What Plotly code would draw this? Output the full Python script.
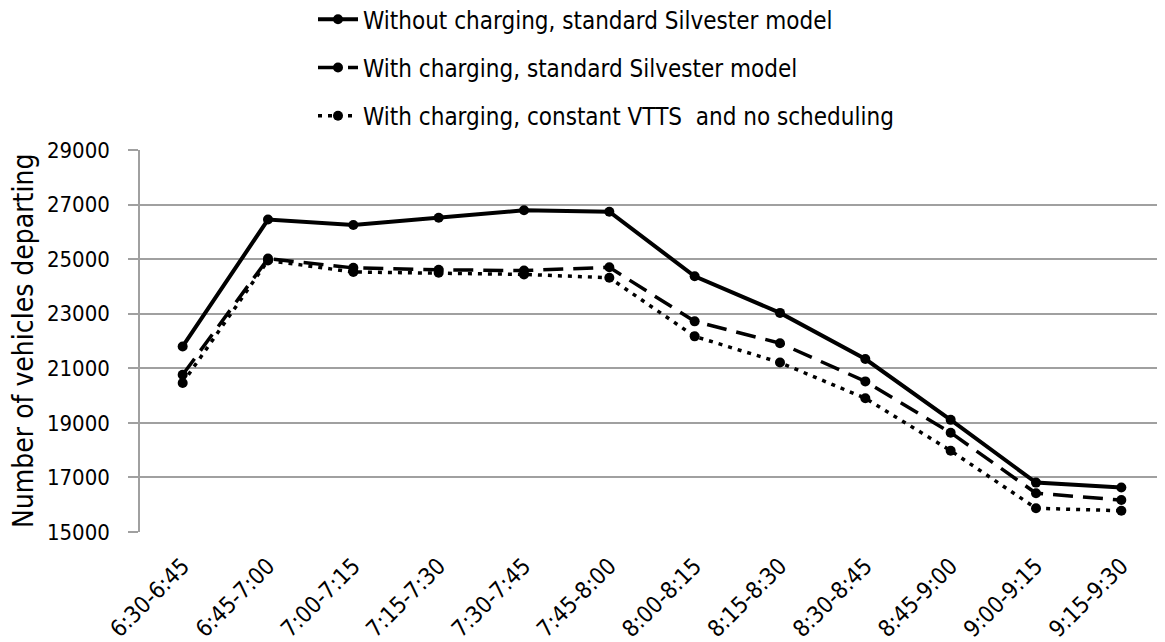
import plotly.graph_objects as go

categories = ["6:30-6:45", "6:45-7:00", "7:00-7:15", "7:15-7:30", "7:30-7:45", "7:45-8:00",
              "8:00-8:15", "8:15-8:30", "8:30-8:45", "8:45-9:00", "9:00-9:15", "9:15-9:30"]
without_charging = [21800, 26450, 26250, 26520, 26790, 26740, 24370, 23030, 21340, 19110, 16810, 16630]
with_charging = [20760, 25020, 24680, 24610, 24580, 24700, 22720, 21920, 20520, 18640, 16420, 16170]
constant_vtts = [20460, 24950, 24530, 24500, 24440, 24320, 22170, 21210, 19900, 17980, 15870, 15780]

names = ["Without charging, standard Silvester model",
         "With charging, standard Silvester model",
         "With charging, constant VTTS  and no scheduling"]
dashes = ["solid", "20px,10px", "4px,6px"]
widths = [4, 3.5, 3.5]
series = [without_charging, with_charging, constant_vtts]

FONT = "DejaVu Sans Condensed, Liberation Sans, sans-serif"

W, H = 1157, 634
ML, MR, MT, MB = 132, 1, 142, 110

fig = go.Figure()
for i, (nm, vals, d, w) in enumerate(zip(names, series, dashes, widths)):
    fig.add_trace(go.Scatter(
        x=categories, y=vals, name=nm, mode="lines+markers",
        line=dict(color="black", width=w, dash=d),
        marker=dict(color="black", size=10, symbol="circle"),
        legendgroup=f"g{i}",
    ))

fig.update_layout(
    width=W, height=H,
    margin=dict(l=ML, r=MR, t=MT, b=MB, autoexpand=False),
    paper_bgcolor="white", plot_bgcolor="white",
    font=dict(family=FONT, color="black", size=18),
    showlegend=True,
    legend=dict(
        x=305 / W, xref="container", xanchor="left",
        y=1.40, yref="paper", yanchor="top",
        font=dict(family=FONT, size=24, color="black"),
        tracegroupgap=14, itemwidth=40,
        bgcolor="rgba(0,0,0,0)",
    ),
    xaxis=dict(
        type="category", range=[-0.5, len(categories) - 0.5],
        showgrid=False, showline=False,
        tickangle=-45, tickfont=dict(family=FONT, size=23, color="black"),
        ticks="", zeroline=False, ticklabelstandoff=15,
    ),
    yaxis=dict(
        range=[15000, 29000], dtick=2000, tick0=15000, tickformat="d",
        showgrid=True, gridcolor="#a0a0a0", gridwidth=1.5,
        showline=True, linecolor="#a0a0a0", linewidth=1.5,
        ticks="outside", ticklen=10, tickcolor="#a0a0a0", tickwidth=1.5,
        tickfont=dict(family=FONT, size=22, color="black"),
        ticklabelstandoff=14,
        zeroline=False,
    ),
    annotations=[dict(
        text="Number of vehicles departing", textangle=-90,
        xref="paper", yref="paper", x=(15 - ML) / (W - ML - MR), y=0.5,
        xanchor="center", yanchor="middle", showarrow=False,
        font=dict(family=FONT, size=28, color="black"),
    )],
)

fig.write_html("out.html")
